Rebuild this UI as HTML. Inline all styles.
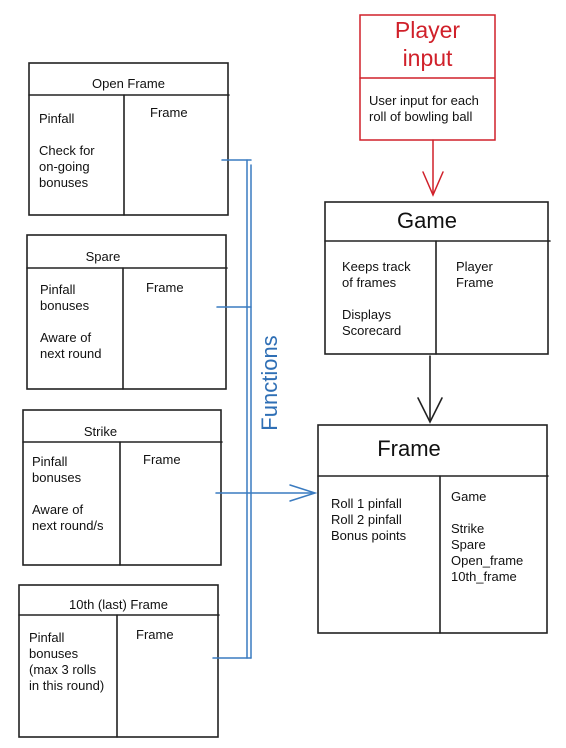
<!DOCTYPE html>
<html><head><style>
body{margin:0;width:566px;height:748px;background:#fff;position:relative;font-family:"Liberation Sans",sans-serif;overflow:hidden}
.t{position:absolute;font-size:13px;line-height:16px;color:#111}
</style></head><body>
<svg width="566" height="748" style="position:absolute;left:0;top:0" fill="none" stroke-linecap="round">
<g stroke="#222" stroke-width="1.6">
<rect x="29" y="63" width="199" height="152"/><line x1="29" y1="95" x2="229" y2="95"/><line x1="124" y1="95" x2="124" y2="215"/>
<rect x="27" y="235" width="199" height="154"/><line x1="27" y1="268" x2="227" y2="268"/><line x1="123" y1="268" x2="123" y2="389"/>
<rect x="23" y="410" width="198" height="155"/><line x1="23" y1="442" x2="222" y2="442"/><line x1="120" y1="442" x2="120" y2="565"/>
<rect x="19" y="585" width="199" height="152"/><line x1="19" y1="615" x2="219" y2="615"/><line x1="117" y1="615" x2="117" y2="737"/>
<rect x="325" y="202" width="223" height="152"/><line x1="325" y1="241" x2="550" y2="241"/><line x1="436" y1="241" x2="436" y2="354"/>
<rect x="318" y="425" width="229" height="208"/><line x1="318" y1="476" x2="548" y2="476"/><line x1="440" y1="476" x2="440" y2="633"/>
<line x1="430" y1="356" x2="430" y2="420"/><polyline points="418,398 430,422 442,398"/>
</g>
<g stroke="#d0202a" stroke-width="1.5">
<rect x="360" y="15" width="135" height="125"/><line x1="360" y1="78" x2="494" y2="78"/>
<line x1="433" y1="140" x2="433" y2="194"/><polyline points="423,172 433,195 443,172"/>
</g>
<g stroke="#3a7bc0" stroke-width="1.5">
<line x1="247" y1="160" x2="247" y2="658"/><line x1="251" y1="165" x2="251" y2="658"/>
<line x1="222" y1="160" x2="251" y2="160"/><line x1="217" y1="307" x2="251" y2="307"/>
<line x1="213" y1="658" x2="251" y2="658"/><line x1="216" y1="493" x2="314" y2="493"/>
<polyline points="290,485 315,493 290,501"/>
</g>
</svg>
<div class="t" style="left:29px;width:199px;top:76px;text-align:center">Open Frame</div>
<div class="t" style="left:39px;top:111px">Pinfall<br><br>Check for<br>on-going<br>bonuses</div>
<div class="t" style="left:150px;top:105px">Frame</div>
<div class="t" style="left:27px;width:152px;top:249px;text-align:center">Spare</div>
<div class="t" style="left:40px;top:282px">Pinfall<br>bonuses<br><br>Aware of<br>next round</div>
<div class="t" style="left:146px;top:280px">Frame</div>
<div class="t" style="left:23px;width:155px;top:424px;text-align:center">Strike</div>
<div class="t" style="left:32px;top:454px">Pinfall<br>bonuses<br><br>Aware of<br>next round/s</div>
<div class="t" style="left:143px;top:452px">Frame</div>
<div class="t" style="left:19px;width:199px;top:597px;text-align:center">10th (last) Frame</div>
<div class="t" style="left:29px;top:630px">Pinfall<br>bonuses<br>(max 3 rolls<br>in this round)</div>
<div class="t" style="left:136px;top:627px">Frame</div>
<div class="t" style="left:360px;width:135px;top:16px;text-align:center;color:#d0202a;font-size:23px;line-height:28px">Player<br>input</div>
<div class="t" style="left:369px;top:93px">User input for each<br>roll of bowling ball</div>
<div class="t" style="left:325px;width:204px;top:207px;text-align:center;font-size:22px;line-height:28px">Game</div>
<div class="t" style="left:342px;top:259px">Keeps track<br>of frames<br><br>Displays<br>Scorecard</div>
<div class="t" style="left:456px;top:259px">Player<br>Frame</div>
<div class="t" style="left:318px;width:182px;top:435px;text-align:center;font-size:22px;line-height:28px">Frame</div>
<div class="t" style="left:331px;top:496px">Roll 1 pinfall<br>Roll 2 pinfall<br>Bonus points</div>
<div class="t" style="left:451px;top:489px">Game<br><br>Strike<br>Spare<br>Open_frame<br>10th_frame</div>
<div class="t" style="left:215px;top:370px;width:110px;text-align:center;color:#2f6fb5;font-size:22px;line-height:26px;transform:rotate(-90deg)">Functions</div>
</body></html>
